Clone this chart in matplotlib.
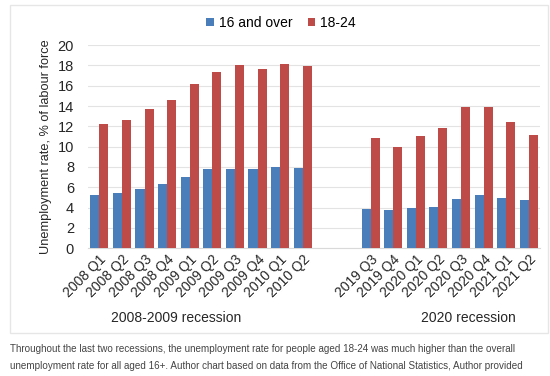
import numpy as np
import matplotlib.pyplot as plt
from matplotlib.patches import Rectangle

plt.rcParams['font.family'] = ['Liberation Sans', 'DejaVu Sans']

# quarters for the two recessions
quarters_0809 = ['2008 Q1', '2008 Q2', '2008 Q3', '2008 Q4', '2009 Q1',
                 '2009 Q2', '2009 Q3', '2009 Q4', '2010 Q1', '2010 Q2']
quarters_2020 = ['2019 Q3', '2019 Q4', '2020 Q1', '2020 Q2', '2020 Q3',
                 '2020 Q4', '2021 Q1', '2021 Q2']

over16_0809 = [5.2, 5.4, 5.8, 6.3, 7.0, 7.8, 7.8, 7.8, 8.0, 7.9]
age1824_0809 = [12.2, 12.6, 13.7, 14.6, 16.2, 17.4, 18.0, 17.6, 18.1, 17.9]
over16_2020 = [3.9, 3.8, 4.0, 4.1, 4.8, 5.2, 4.9, 4.7]
age1824_2020 = [10.9, 10.0, 11.0, 11.8, 13.9, 13.9, 12.4, 11.1]

blue = '#4a7ebb'
red = '#be4b48'

fig = plt.figure(figsize=(5.5, 3.76), dpi=100)
fig.patches.append(Rectangle((10 / 550, 1 - 333 / 376), 538 / 550, 328 / 376,
                             transform=fig.transFigure, fill=False,
                             edgecolor='#e6e6e6', linewidth=1))

ax = fig.add_axes([0.16, 0.34, 0.822, 0.54])

gap = 2
labels = quarters_0809 + quarters_2020
x_left = np.arange(len(quarters_0809))
x_right = np.arange(len(quarters_2020)) + len(quarters_0809) + gap
xs = np.concatenate([x_left, x_right])
over16 = over16_0809 + over16_2020
age1824 = age1824_0809 + age1824_2020

w = 0.4
ax.bar(xs - w / 2, over16, width=w, color=blue, label='16 and over', zorder=3)
ax.bar(xs + w / 2, age1824, width=w, color=red, label='18-24', zorder=3)

ax.set_xlim(-0.5, xs[-1] + 0.5)
ax.set_ylim(0, 20)
ax.set_yticks(range(0, 21, 2))
ax.set_xticks(xs)
ax.set_xticklabels(labels, rotation=45, ha='right', rotation_mode='anchor',
                   fontsize=10, color='#262626')
ax.tick_params(axis='y', labelsize=10.5, colors='#262626', length=0, pad=10)
ax.tick_params(axis='x', length=0, pad=3)
ax.grid(axis='y', color='#e3e3e3', linewidth=0.8, zorder=0)
for s in ['top', 'right', 'left']:
    ax.spines[s].set_visible(False)
ax.spines['bottom'].set_color('#d9d9d9')

ax.set_ylabel('Unemployment rate, % of labour force', fontsize=9.2,
              color='#262626', labelpad=4)

ax.legend(loc='center', bbox_to_anchor=(0.427, 1.11), ncol=2,
          frameon=False, fontsize=10, handlelength=0.55, handleheight=0.55,
          handletextpad=0.35, columnspacing=1.1)

# group labels
fig.text(176 / 550, 1 - 318 / 376, '2008-2009 recession', ha='center',
         va='center', fontsize=10, color='#262626')
fig.text(468 / 550, 1 - 318 / 376, '2020 recession', ha='center',
         va='center', fontsize=10, color='#262626')

# caption
fig.text(10 / 550, 1 - 349 / 376,
         'Throughout the last two recessions, the unemployment rate for people aged 18-24 was much higher than the overall',
         ha='left', va='center', fontsize=7.1, color='#444444')
fig.text(10 / 550, 1 - 366 / 376,
         'unemployment rate for all aged 16+. Author chart based on data from the Office of National Statistics, Author provided',
         ha='left', va='center', fontsize=7.1, color='#444444')

fig.savefig('out.png', dpi=100)
